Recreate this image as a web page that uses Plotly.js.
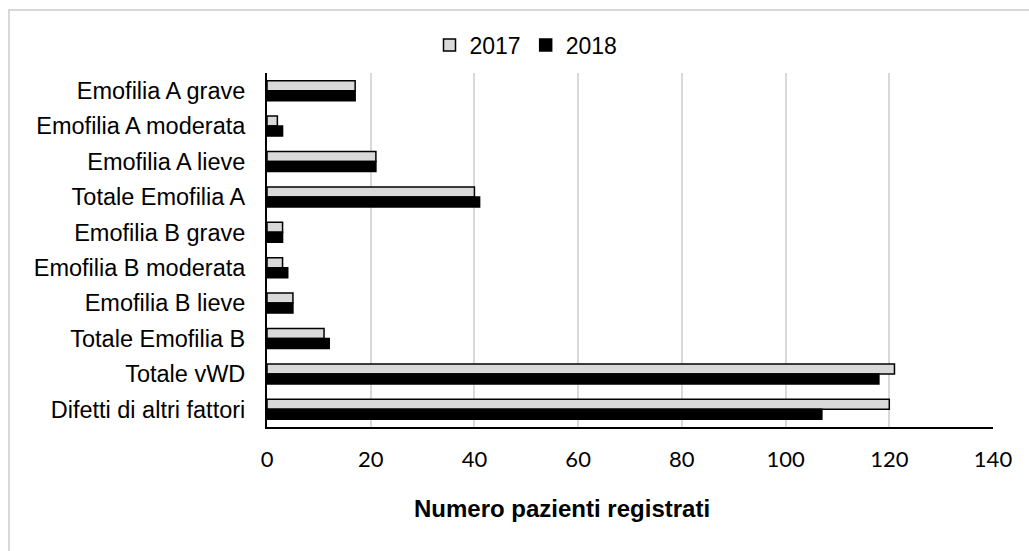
<!DOCTYPE html>
<html>
<head>
<meta charset="utf-8">
<script src="https://cdn.plot.ly/plotly-3.0.1.min.js"></script>
<style>html,body{margin:0;padding:0;background:#fff;}#chart{width:1029px;height:551px;}</style>
</head>
<body>
<div id="chart"></div>
<script>
const categories = [
  "Emofilia A grave",
  "Emofilia A moderata",
  "Emofilia A lieve",
  "Totale Emofilia A",
  "Emofilia B grave",
  "Emofilia B moderata",
  "Emofilia B lieve",
  "Totale Emofilia B",
  "Totale vWD",
  "Difetti di altri fattori"
];
const values2017 = [17, 2, 21, 40, 3, 3, 5, 11, 121, 120];
const values2018 = [17, 3, 21, 41, 3, 4, 5, 12, 118, 107];
const xTicks = [0, 20, 40, 60, 80, 100, 120, 140];
const xTitle = 'Numero pazienti registrati';

const W = 1029, H = 551;
const L = 267, R = 36, T = 73, B = 124;
const pw = W - L - R, ph = H - T - B;
const px2x = p => (p - L) / pw;
const py2y = p => (H - B - p) / ph;

const traces = [
  {
    type: 'bar', orientation: 'h', name: '2017',
    y: categories, x: values2017,
    marker: {color: '#d9d9d9', line: {color: '#000000', width: 1.5}}
  },
  {
    type: 'bar', orientation: 'h', name: '2018',
    y: categories, x: values2018,
    marker: {color: '#000000', line: {color: '#000000', width: 1.5}}
  }
];

const layout = {
  width: W, height: H,
  margin: {l: L, r: R, t: T, b: B, pad: 0},
  paper_bgcolor: '#ffffff', plot_bgcolor: '#ffffff',
  barmode: 'group', bargap: 0.435, bargroupgap: 0,
  showlegend: true,
  legend: {
    orientation: 'h', x: px2x(526), xanchor: 'center', y: py2y(45), yanchor: 'middle',
    font: {family: 'Liberation Sans, Arial, sans-serif', size: 23, color: '#000'},
    traceorder: 'normal', itemwidth: 30, bgcolor: 'rgba(0,0,0,0)'
  },
  xaxis: {
    range: [0, 140], tickvals: xTicks, ticktext: xTicks.map(String),
    showgrid: true, gridcolor: '#d9d9d9', gridwidth: 2,
    zeroline: false, showline: true, linecolor: '#000', linewidth: 2,
    ticks: '', ticklen: 0, ticklabelstandoff: 12,
    tickfont: {family: 'Lato, Open Sans, sans-serif', size: 22, color: '#000'},
    fixedrange: true
  },
  yaxis: {
    autorange: 'reversed', type: 'category',
    showgrid: false, zeroline: false, showline: true, linecolor: '#000', linewidth: 2,
    ticks: '', ticklen: 0, ticklabelstandoff: 15,
    tickfont: {family: 'Liberation Sans, Arial, sans-serif', size: 23.5, color: '#000'},
    fixedrange: true
  },
  annotations: [
    {text: '<b>' + xTitle + '</b>', xref: 'paper', yref: 'paper',
     x: px2x(562), y: py2y(508), xanchor: 'center', yanchor: 'middle', showarrow: false,
     font: {family: 'Liberation Sans, Arial, sans-serif', size: 24, color: '#000'}}
  ],
  shapes: [
    {type: 'rect', xref: 'paper', yref: 'paper',
     x0: px2x(9), x1: px2x(1060),
     y0: py2y(580), y1: py2y(10),
     line: {color: '#d9d9d9', width: 2}, fillcolor: 'rgba(0,0,0,0)', layer: 'below'}
  ]
};

Plotly.newPlot('chart', traces, layout, {displayModeBar: false, staticPlot: true});
</script>
</body>
</html>
